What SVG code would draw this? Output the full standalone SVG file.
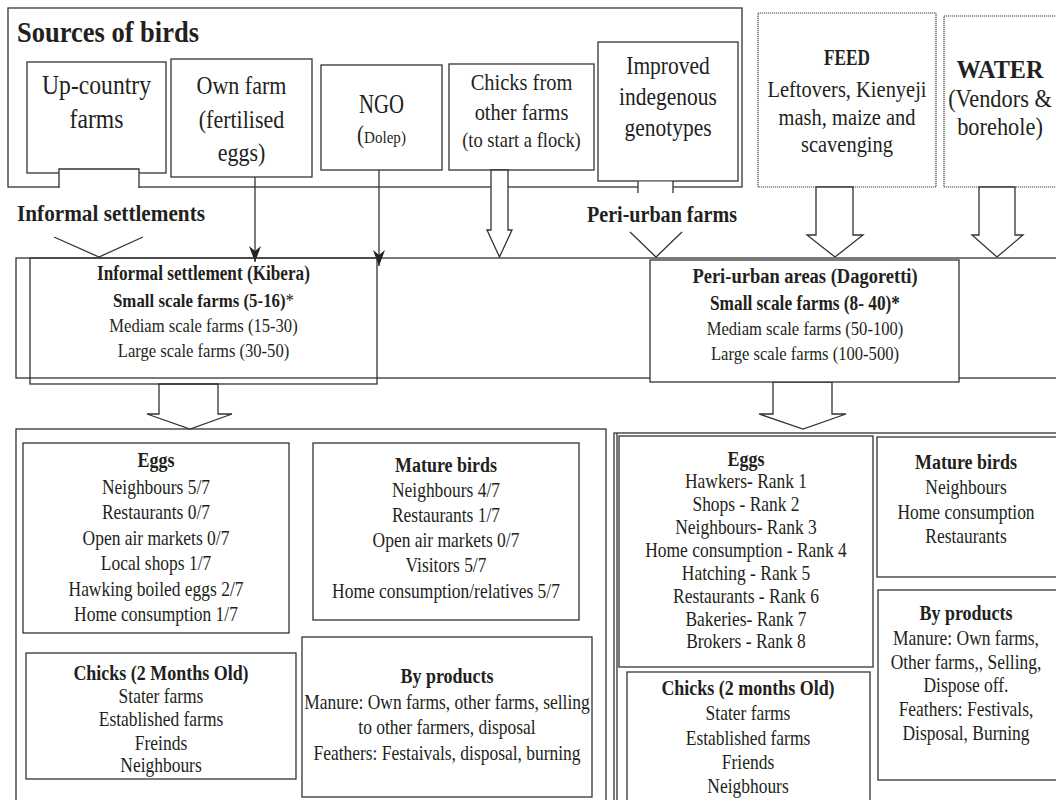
<svg xmlns="http://www.w3.org/2000/svg" width="1056" height="800" viewBox="0 0 1056 800">
<style>
.bx{fill:none;stroke:#333;stroke-width:1.3}
.wb{fill:#fff;stroke:#333;stroke-width:1.3}
.dt{fill:#fff;stroke:#444;stroke-width:1.2;stroke-dasharray:1.2 0.8}
.ln{fill:none;stroke:#333;stroke-width:1.3}
.ar{fill:#fff;stroke:#333;stroke-width:1.3;stroke-linejoin:miter}
.wf{fill:#fff;stroke:none}
text{font-family:"Liberation Serif","Times New Roman",serif;fill:#231f20;text-anchor:middle}
.bd{font-weight:bold}
.st{text-anchor:start}
.b{font-size:20.3px}
.h{font-size:20.9px;font-weight:bold}
.m{font-size:19.3px}
</style>
<defs>
<marker id="ah" markerUnits="userSpaceOnUse" markerWidth="16" markerHeight="12" refX="16" refY="6" orient="auto" viewBox="0 0 16 12">
<path d="M0,0 L16,6 L0,12 L5,6 z" fill="#222"/>
</marker>
</defs>
<rect width="1056" height="800" fill="#fff"/>

<g id="sources">
<rect class="bx" x="8" y="8" width="734" height="179"/>
<text class="bd st" x="17" y="42" font-size="30" textLength="182" lengthAdjust="spacingAndGlyphs">Sources of birds</text>
</g>
<g id="band">
<rect class="bx" x="16" y="258" width="1060" height="120"/>
</g>
<g id="informal-uses">
<rect class="bx" x="16" y="429" width="590" height="390"/>
</g>
<g id="periurban-uses">
<rect class="bx" x="614" y="433" width="460" height="390"/>
<line class="ln" x1="617" y1="433" x2="617" y2="800" stroke-width="0.9"/>
</g>

<g id="upcountry">
<rect class="wb" x="27" y="62" width="139" height="111"/>
<g transform="translate(96.5 0) scale(0.86 1)">
<text y="94" font-size="27.5">Up-country</text>
<text y="128" font-size="27.5">farms</text>
</g>
</g>
<g id="ownfarm">
<rect class="wb" x="171" y="59" width="141" height="118"/>
<g transform="translate(241.5 0) scale(0.86 1)">
<text y="94" font-size="25.6">Own farm</text>
<text y="128" font-size="25.6">(fertilised</text>
<text y="161" font-size="25.6">eggs)</text>
</g>
</g>
<g id="ngo">
<rect class="wb" x="321" y="65" width="121" height="105"/>
<text x="381.5" y="113" font-size="27" textLength="45" lengthAdjust="spacingAndGlyphs">NGO</text>
<g transform="translate(381.5 0) scale(0.86 1)">
<text y="143"><tspan font-size="24.5">(</tspan><tspan font-size="17.5">Dolep)</tspan></text>
</g>
</g>
<g id="chicks-other">
<rect class="wb" x="449" y="64" width="145" height="106"/>
<g transform="translate(521.5 0) scale(0.86 1)">
<text y="90" font-size="23.8">Chicks from</text>
<text y="120" font-size="23.8">other farms</text>
<text y="147" font-size="21.5">(to start a flock)</text>
</g>
</g>
<g id="improved">
<rect class="wb" x="598" y="42" width="140" height="139"/>
<g transform="translate(668 0) scale(0.86 1)">
<text y="74" font-size="25">Improved</text>
<text y="105" font-size="25">indegenous</text>
<text y="136" font-size="25">genotypes</text>
</g>
</g>
<g id="feed">
<rect class="dt" x="758" y="13" width="178" height="174"/>
<text class="bd" x="847" y="65" font-size="23" textLength="46" lengthAdjust="spacingAndGlyphs">FEED</text>
<g transform="translate(847 0) scale(0.86 1)">
<text y="97" font-size="23.8">Leftovers, Kienyeji</text>
<text y="125" font-size="23.8">mash, maize and</text>
<text y="152" font-size="23.8">scavenging</text>
</g>
</g>
<g id="water">
<rect class="dt" x="944" y="16" width="130" height="171"/>
<text class="bd" x="1000" y="78" font-size="26" textLength="87" lengthAdjust="spacingAndGlyphs">WATER</text>
<g transform="translate(1000 0) scale(0.86 1)">
<text y="107" font-size="26">(Vendors &amp;</text>
<text y="135" font-size="26">borehole)</text>
</g>
</g>

<g id="connectors">
<rect class="wf" x="59" y="169" width="80" height="19.5"/>
<path class="ln" d="M59,188 V169 H139 V188"/>
<polyline class="ln" points="54,237 99,257 143,237"/>
<line class="ln" x1="255" y1="177" x2="255" y2="262" marker-end="url(#ah)"/>
<line class="ln" x1="379" y1="170" x2="379" y2="266" marker-end="url(#ah)"/>
<polygon class="ar" points="491,170 508,170 508,230 512,230 499.5,257 487,230 491,230"/>
<rect class="wf" x="638" y="181.7" width="35" height="11"/>
<path class="ln" d="M638,181 V193 M673,181 V193"/>
<polyline class="ln" points="630,232 656,257 682,232"/>
<polygon class="ar" points="816,187 853,187 853,235 863,235 835,257 807,235 816,235"/>
<polygon class="ar" points="979,187 1015,187 1015,235 1023,235 997,257 972,235 979,235"/>
<polygon class="ar" points="159,384 218,384 218,414 232,414 190,429 147,414 159,414"/>
<polygon class="ar" points="773,382 832,382 832,414 846,414 803,429 759,414 773,414"/>
</g>

<g id="label-informal">
<text class="bd st" x="17" y="221" font-size="24" textLength="188" lengthAdjust="spacingAndGlyphs">Informal settlements</text>
</g>
<g id="label-periurban">
<text class="bd st" x="587" y="222" font-size="23" textLength="150" lengthAdjust="spacingAndGlyphs">Peri-urban farms</text>
</g>

<g id="kibera">
<rect class="bx" x="30" y="258" width="347" height="126"/>
<g transform="translate(203.5 0) scale(0.86 1)">
<text class="bd" y="280" font-size="20">Informal settlement (Kibera)</text>
<text y="307"><tspan class="bd" font-size="19.6">Small scale farms (5-16)</tspan><tspan font-size="19.6">*</tspan></text>
<text class="m" y="332">Mediam scale farms (15-30)</text>
<text class="m" y="357">Large scale farms (30-50)</text>
</g>
</g>
<g id="dagoretti">
<rect class="wb" x="650" y="260" width="309" height="122"/>
<g transform="translate(805 0) scale(0.86 1)">
<text class="bd" y="283" font-size="21.5">Peri-urban areas (Dagoretti)</text>
<text class="bd" y="310" font-size="20.1">Small scale farms (8- 40)*</text>
<text class="m" y="335">Mediam scale farms (50-100)</text>
<text class="m" y="360">Large scale farms (100-500)</text>
</g>
</g>

<g id="eggs-informal">
<rect class="bx" x="23" y="443" width="266" height="190"/>
<g transform="translate(156 0) scale(0.86 1)">
<text class="h" y="467">Eggs</text>
<text class="b" y="494">Neighbours 5/7</text>
<text class="b" y="519">Restaurants 0/7</text>
<text class="b" y="545">Open air markets 0/7</text>
<text class="b" y="570">Local shops 1/7</text>
<text class="b" y="596">Hawking boiled eggs 2/7</text>
<text class="b" y="621">Home consumption 1/7</text>
</g>
</g>
<g id="mature-informal">
<rect class="bx" x="313" y="443" width="266" height="177"/>
<g transform="translate(446 0) scale(0.86 1)">
<text class="h" y="472">Mature birds</text>
<text class="b" y="497">Neighbours 4/7</text>
<text class="b" y="522">Restaurants 1/7</text>
<text class="b" y="547">Open air markets 0/7</text>
<text class="b" y="572">Visitors 5/7</text>
<text class="b" y="598">Home consumption/relatives 5/7</text>
</g>
</g>
<g id="chicks-informal">
<rect class="bx" x="26" y="653" width="270" height="126"/>
<g transform="translate(161 0) scale(0.86 1)">
<text class="h" y="680">Chicks (2 Months Old)</text>
<text class="b" y="703">Stater farms</text>
<text class="b" y="726">Established farms</text>
<text class="b" y="750">Freinds</text>
<text class="b" y="772">Neighbours</text>
</g>
</g>
<g id="byproducts-informal">
<rect class="bx" x="302" y="637" width="290" height="160"/>
<g transform="translate(447 0) scale(0.86 1)">
<text class="h" y="683">By products</text>
<text class="b" y="709">Manure: Own farms, other farms, selling</text>
<text class="b" y="734">to other farmers, disposal</text>
<text class="b" y="760">Feathers: Festaivals, disposal, burning</text>
</g>
</g>

<g id="eggs-periurban">
<rect class="bx" x="619" y="436" width="254" height="231"/>
<g transform="translate(746 0) scale(0.86 1)">
<text class="h" y="466">Eggs</text>
<text class="b" y="488">Hawkers- Rank 1</text>
<text class="b" y="511">Shops - Rank 2</text>
<text class="b" y="534">Neighbours- Rank 3</text>
<text class="b" y="557">Home consumption - Rank 4</text>
<text class="b" y="580">Hatching - Rank 5</text>
<text class="b" y="603">Restaurants - Rank 6</text>
<text class="b" y="626">Bakeries- Rank 7</text>
<text class="b" y="648">Brokers - Rank 8</text>
</g>
</g>
<g id="chicks-periurban">
<rect class="bx" x="627" y="672" width="243" height="150"/>
<g transform="translate(748 0) scale(0.86 1)">
<text class="h" y="695">Chicks (2 months Old)</text>
<text class="b" y="720">Stater farms</text>
<text class="b" y="745">Established farms</text>
<text class="b" y="769">Friends</text>
<text class="b" y="793">Neigbhours</text>
</g>
</g>
<g id="mature-periurban">
<rect class="bx" x="877" y="437" width="193" height="140"/>
<g transform="translate(966 0) scale(0.86 1)">
<text class="h" y="469">Mature birds</text>
<text class="b" y="494">Neighbours</text>
<text class="b" y="519">Home consumption</text>
<text class="b" y="543">Restaurants</text>
</g>
</g>
<g id="byproducts-periurban">
<rect class="bx" x="878" y="590" width="192" height="190"/>
<g transform="translate(966 0) scale(0.86 1)">
<text class="h" y="620">By products</text>
<text class="b" y="645">Manure: Own farms,</text>
<text class="b" y="669">Other farms,, Selling,</text>
<text class="b" y="692">Dispose off.</text>
<text class="b" y="716">Feathers: Festivals,</text>
<text class="b" y="740">Disposal, Burning</text>
</g>
</g>
</svg>
